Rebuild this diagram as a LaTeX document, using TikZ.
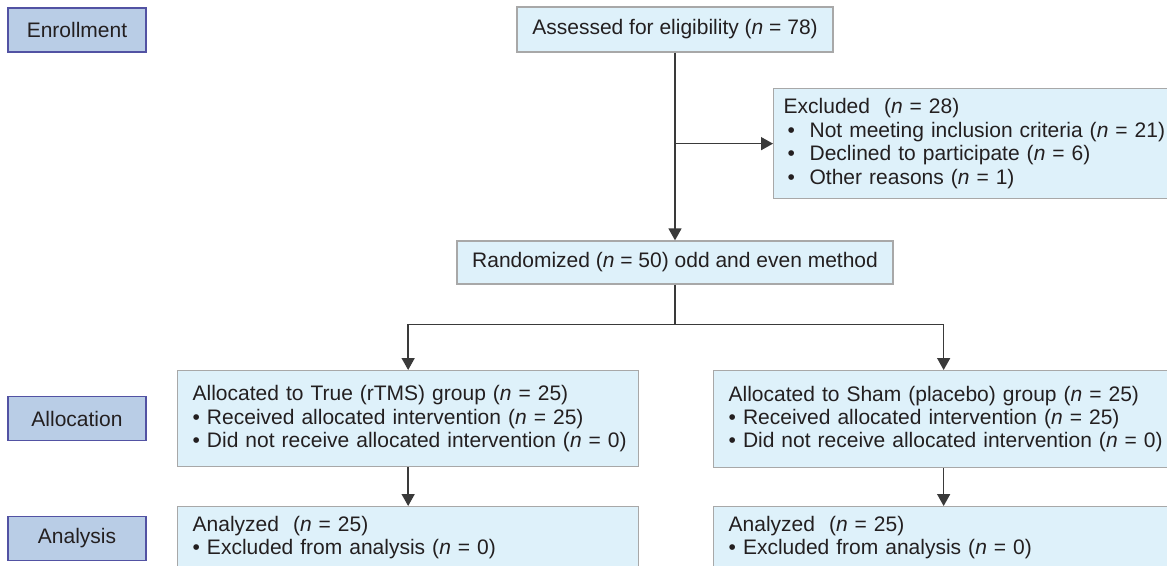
\documentclass[tikz,border=0pt]{standalone}
\usepackage{fontspec}
\setmainfont{Liberation Sans}
\usepackage{tikz}
\usetikzlibrary{positioning,arrows.meta}
\definecolor{stagefill}{HTML}{B9CDE6}
\definecolor{stageline}{HTML}{5252A3}
\definecolor{boxfill}{HTML}{DEF1FA}
\definecolor{boxline}{HTML}{A8A8A8}
\definecolor{ink}{HTML}{231F20}
\definecolor{wire}{HTML}{3A3A3A}

\begin{document}
\begin{tikzpicture}[%
x=1pt,y=-1pt,
>={Triangle[length=12pt,width=13pt]},
font=\fontsize{21}{23.4}\selectfont,
text=ink,
stage/.style={
draw=stageline,
fill=stagefill,
line width=1.3pt,
minimum width=138pt,
minimum height=44pt,
inner sep=0pt,},
flow/.style={
draw=boxline,
fill=boxfill,
line width=1.3pt,
inner xsep=15pt,
inner ysep=0pt,
align=left,},
pil/.style={
->,
draw=wire,
line width=1.5pt,}
]
\useasboundingbox (0,0) rectangle (1167,565);
\fill[white] (0,0) rectangle (1167,565);
\clip (0,0) rectangle (1167,565);

\node[stage] (enrol) at (77,30) {Enrollment};
\node[stage] (alloc) at (77,418.5) {Allocation};
\node[stage] (anlys) at (77,538.5) {Analysis};

\node[flow,align=center,minimum width=316pt,minimum height=45pt] (assess) at (675,29.5)
{Assessed for eligibility (\textit{n} = 78)};
\node[flow,inner xsep=10pt,text width=400pt,minimum height=110pt,anchor=north west] (excl) at (773,88)
{Excluded\ \ (\textit{n} = 28)\\
\makebox[26pt][l]{\hspace{4pt}•}Not meeting inclusion criteria (\textit{n} = 21)\\
\makebox[26pt][l]{\hspace{4pt}•}Declined to participate (\textit{n} = 6)\\
\makebox[26pt][l]{\hspace{4pt}•}Other reasons (\textit{n} = 1)};
\node[flow,align=center,minimum width=436pt,minimum height=43pt] (rand) at (675,262.5)
{Randomized (\textit{n} = 50) odd and even method};

\node[flow,text width=431pt,minimum height=96pt,anchor=north west] (allocT) at (177,370)
{Allocated to True (rTMS) group (\textit{n} = 25)\\
• Received allocated intervention (\textit{n} = 25)\\
\mbox{• Did not receive allocated intervention (\textit{n} = 0)}};
\node[flow,text width=430pt,minimum height=97pt,anchor=north west] (allocS) at (713,370)
{Allocated to Sham (placebo) group (\textit{n} = 25)\\
• Received allocated intervention (\textit{n} = 25)\\
\mbox{• Did not receive allocated intervention (\textit{n} = 0)}};
\node[flow,text width=431pt,minimum height=62pt,anchor=north west] (anlT) at (177,506)
{Analyzed\ \ (\textit{n} = 25)\\
• Excluded from analysis (\textit{n} = 0)};
\node[flow,text width=430pt,minimum height=62pt,anchor=north west] (anlS) at (713,506)
{Analyzed\ \ (\textit{n} = 25)\\
• Excluded from analysis (\textit{n} = 0)};

\coordinate (split) at ([yshift=-40pt]rand.south);
\draw[pil] (assess.south) -- (rand.north);
\draw[pil] (assess.south |- excl.west) -- (excl.west);
\draw[pil,-] (rand.south) -- (split);
\draw[pil] (split) -| (allocT.north);
\draw[pil] (split) -| (allocS.north);
\draw[pil] (allocT.south) -- (anlT.north);
\draw[pil] (allocS.south) -- (anlS.north);
\end{tikzpicture}
\end{document}
